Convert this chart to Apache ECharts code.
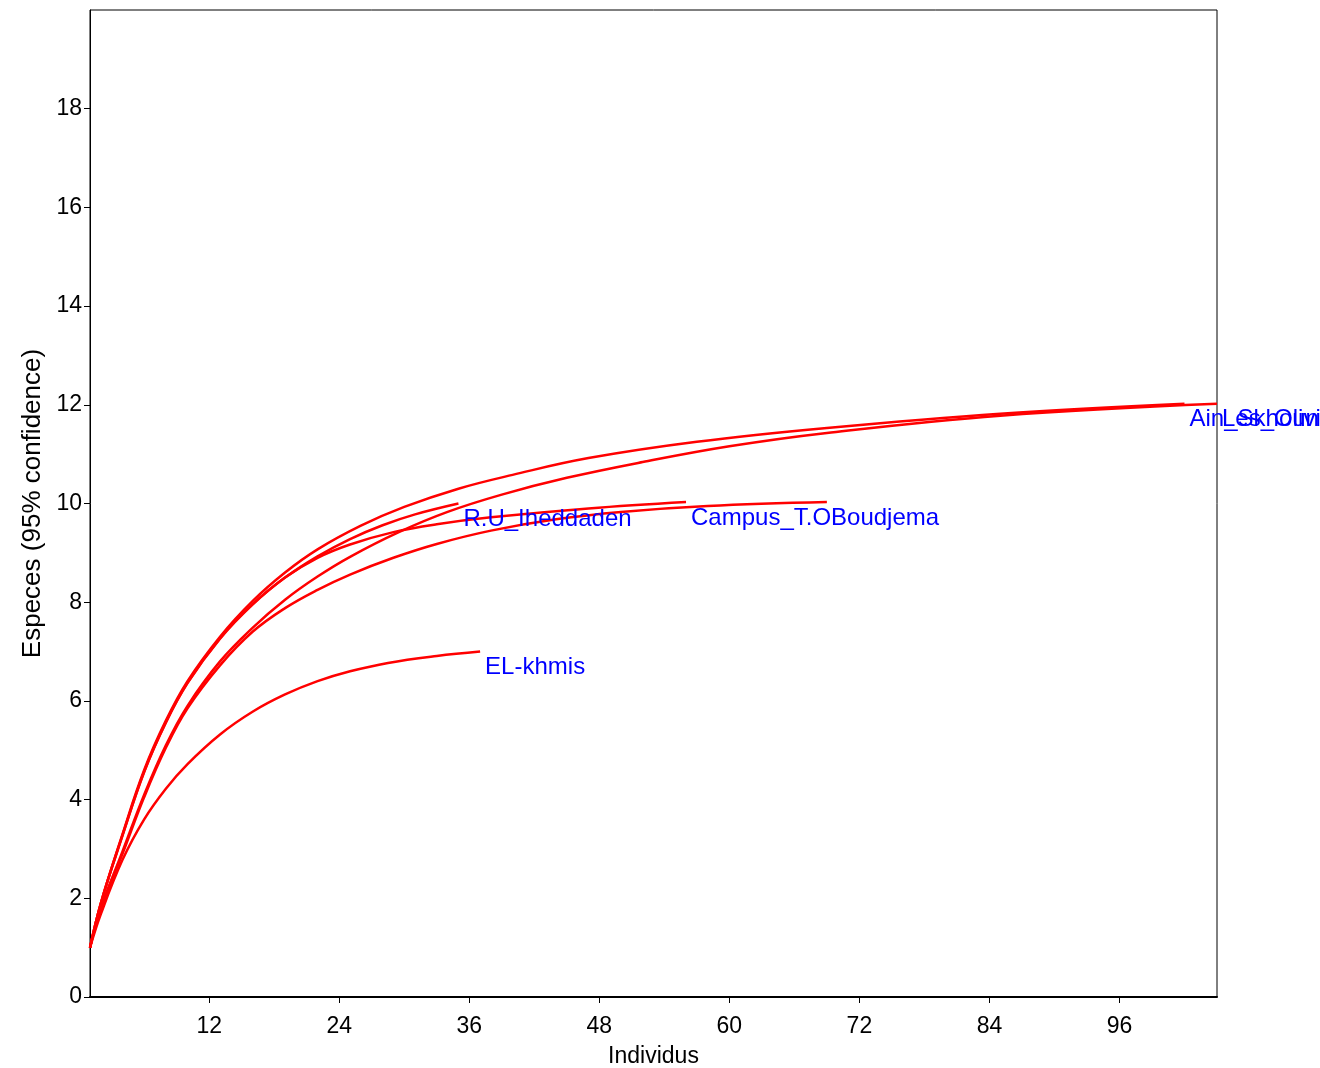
<!DOCTYPE html>
<html>
<head>
<meta charset="utf-8">
<script src="https://cdn.jsdelivr.net/npm/echarts@6/dist/echarts.min.js"></script>
<style>
  html, body { margin: 0; padding: 0; background: #fff; }
  #main { width: 1320px; height: 1068px; }
</style>
</head>
<body>
<div id="main"></div>
<script>
    // courbes de rarefaction: [individus, especes]
    var elKhmis = [[1,1],[2,1.68],[4,2.78],[6,3.6],[8,4.22],[10,4.72],[13,5.32],[16,5.78],[19,6.13],[22,6.4],[25,6.6],[28.5,6.77],[33,6.91],[37,7]];
    var ruIheddaden = [[1,1],[2,1.9],[4,3.28],[6,4.57],[8,5.57],[10,6.37],[13,7.27],[16,7.96],[19,8.5],[22,8.93],[25,9.28],[28,9.56],[31,9.78],[35,10]];
    var campus = [[1,1],[2,1.9],[4,3.27],[6,4.56],[8,5.56],[10,6.36],[13,7.26],[16,7.95],[19,8.5],[22,8.9],[25,9.17],[29,9.42],[33,9.58],[38,9.72],[47,9.9],[56,10.03]];
    var site69 = [[1,1],[2,1.78],[4,2.9],[6,4.05],[8,5.05],[10,5.85],[13,6.72],[16,7.4],[19,7.88],[22,8.25],[25,8.56],[29,8.9],[33,9.18],[38,9.45],[44,9.68],[50,9.83],[58,9.95],[69,10.03]];
    var ainSkhoun = [[1,1],[2,1.9],[4,3.3],[6,4.6],[8,5.6],[10,6.4],[13,7.3],[16,8.02],[19,8.6],[22,9.07],[26,9.55],[30,9.93],[35,10.3],[40,10.58],[47,10.92],[57,11.25],[69,11.53],[85,11.82],[102,12.02]];
    var lesOliviers = [[1,1],[2,1.8],[4,2.95],[6,4.1],[8,5.1],[10,5.9],[13,6.8],[16,7.48],[19,8.05],[22,8.52],[25,8.92],[29.5,9.42],[34,9.83],[39,10.18],[45,10.52],[52,10.84],[60,11.16],[69,11.43],[85,11.78],[105,12.02]];

    var xTicks = [12,24,36,48,60,72,84,96];
    var yTicks = [0,2,4,6,8,10,12,14,16,18];

    var curves = [
        {name: 'EL-khmis', data: elKhmis, label: true},
        {name: 'R.U_Iheddaden', data: ruIheddaden, label: true},
        {name: 'Campus_T.OBoudjema', data: campus, label: true},
        {name: '', data: site69, label: false},
        {name: 'Ain_Skhoun', data: ainSkhoun, label: true},
        {name: 'Les_Oliviers', data: lesOliviers, label: true}
    ];

    var myChart = echarts.init(document.getElementById('main'));

    myChart.setOption({
        animation: false,
        grid: {
            left: 90,
            right: 103,
            top: 10,
            bottom: 71,
            outerBoundsMode: 'none',
            show: true,
            borderColor: '#000',
            borderWidth: 1
        },
        xAxis: {
            type: 'value',
            min: 1,
            max: 105,
            name: 'Individus',
            nameLocation: 'middle',
            nameGap: 48,
            nameTextStyle: {
                fontSize: 23,
                color: '#000',
                fontFamily: 'Liberation Sans Narrow, Arial Narrow, Liberation Sans, sans-serif'
            },
            splitLine: {show: false},
            axisLine: {lineStyle: {color: '#000', width: 2}},
            axisTick: {customValues: xTicks, length: 6, lineStyle: {color: '#000'}},
            axisLabel: {
                customValues: xTicks,
                color: '#000',
                fontSize: 23,
                margin: 18,
                fontFamily: 'Liberation Sans Narrow, Arial Narrow, Liberation Sans, sans-serif'
            }
        },
        yAxis: {
            type: 'value',
            min: 0,
            max: 20,
            name: 'Especes (95% confidence)',
            nameLocation: 'middle',
            nameGap: 44,
            nameTextStyle: {
                fontSize: 26,
                color: '#000',
                fontFamily: 'Liberation Sans, Arial, sans-serif'
            },
            splitLine: {show: false},
            axisLine: {lineStyle: {color: '#000', width: 1}},
            axisTick: {customValues: yTicks, length: 6, lineStyle: {color: '#000'}},
            axisLabel: {
                customValues: yTicks,
                color: '#000',
                fontSize: 23,
                margin: 8,
                fontFamily: 'Liberation Sans Narrow, Arial Narrow, Liberation Sans, sans-serif'
            }
        },
        series: curves.map(function (c) {
            return {
                name: c.name,
                type: 'line',
                data: c.data,
                smooth: 0.4,
                showSymbol: false,
                lineStyle: {color: '#ff0000', width: 2.5},
                endLabel: {
                    show: c.label,
                    formatter: '{a}',
                    color: '#0000ff',
                    fontSize: 24,
                    fontFamily: 'Liberation Sans, Arial, sans-serif',
                    distance: 5,
                    offset: [0, 16]
                }
            };
        })
    });
</script>
</body>
</html>
